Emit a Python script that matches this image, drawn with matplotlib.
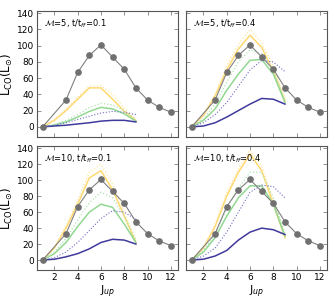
import numpy as np
import matplotlib
matplotlib.use("Agg")
import matplotlib.pyplot as plt

# observed / reference ladder (same in every panel)
j_obs = [1, 3, 4, 5, 6, 7, 8, 9, 10, 11, 12]
l_obs = [0, 33, 67, 88, 101, 86, 71, 48, 33, 24, 18]

j_mod = [1, 2, 3, 4, 5, 6, 7, 8, 9]

titles = [r"$\mathcal{M}$=5, t/t$_{ff}$=0.1", r"$\mathcal{M}$=5, t/t$_{ff}$=0.4",
          r"$\mathcal{M}$=10, t/t$_{ff}$=0.1", r"$\mathcal{M}$=10, t/t$_{ff}$=0.4"]

# model curves per panel: yellow solid, yellow dotted, green solid, green dotted, blue solid, blue dotted
yel = [[0, 8, 20, 34, 48, 48, 34, 19, 8],
       [0, 14, 38, 70, 96, 113, 98, 68, 32],
       [0, 15, 40, 70, 103, 112, 88, 55, 22],
       [0, 15, 42, 80, 110, 133, 112, 70, 28]]
yel_d = [[0, 9, 22, 37, 50, 51, 40, 23, 9],
         [0, 15, 40, 75, 102, 120, 104, 74, 35],
         [0, 16, 43, 75, 110, 120, 95, 60, 25],
         [0, 16, 45, 85, 115, 138, 118, 75, 30]]
grn = [[0, 2, 6, 12, 19, 24, 22, 16, 7],
       [0, 8, 22, 45, 65, 82, 83, 65, 30],
       [0, 8, 22, 42, 60, 70, 66, 45, 22],
       [0, 10, 28, 55, 78, 93, 93, 70, 30]]
grn_d = [[0, 3, 8, 15, 24, 29, 27, 20, 9],
         [0, 10, 28, 55, 80, 95, 90, 70, 33],
         [0, 10, 27, 50, 72, 85, 78, 55, 25],
         [0, 12, 32, 65, 90, 110, 110, 78, 33]]
blu = [[0, 1, 2, 3.5, 5, 7, 8, 8, 6],
       [0, 1, 5, 12, 20, 28, 35, 34, 28],
       [0, 1, 4, 8, 14, 22, 26, 25, 20],
       [0, 1, 5, 12, 25, 35, 40, 38, 32]]
blu_d = [[0, 2, 5, 9, 13, 17, 19, 18, 15],
         [0, 5, 15, 30, 50, 70, 82, 80, 68],
         [0, 3, 10, 22, 37, 52, 62, 60, 51],
         [0, 5, 15, 35, 60, 85, 94, 92, 78]]

fig = plt.figure(figsize=(3.35, 3.01), dpi=100)
pos = [[0.110, 0.545, 0.421, 0.419], [0.555, 0.545, 0.421, 0.419],
       [0.110, 0.103, 0.421, 0.412], [0.555, 0.103, 0.421, 0.412]]

for k in range(4):
    ax = fig.add_axes(pos[k])
    ax.plot(j_mod, yel[k], color="#ffd870", lw=1.1)
    ax.plot(j_mod, yel_d[k], color="#ffe6a0", lw=0.9, ls=":")
    ax.plot(j_mod, grn[k], color="#92d892", lw=1.1)
    ax.plot(j_mod, grn_d[k], color="#b0e4b0", lw=0.9, ls=":")
    ax.plot(j_mod, blu[k], color="#403a9c", lw=1.1)
    ax.plot(j_mod, blu_d[k], color="#6e6ac4", lw=0.8, ls=":")
    ax.plot(j_obs, l_obs, color="#808080", lw=0.8, marker="o", ms=3.8,
            mfc="#707070", mec="#707070")
    ax.set_xlim(0.5, 12.6)
    ax.set_ylim(-12.5, 143)
    ax.set_xticks([2, 4, 6, 8, 10, 12])
    ax.set_yticks(range(0, 141, 20))
    ax.tick_params(direction="in", top=True, right=True, labelsize=6.5,
                   length=3, width=0.5, color="#666666", pad=2)
    for s in ax.spines.values():
        s.set_color("#555555")
        s.set_linewidth(0.8)
    ax.text(0.05, 0.95, titles[k], transform=ax.transAxes, fontsize=6,
            va="top", ha="left")
    if k % 2 == 1:
        ax.set_yticklabels([])
    else:
        ax.set_ylabel(r"L$_{\rm CO}$(L$_{\odot}$)", fontsize=8.5, labelpad=1)
    if k < 2:
        ax.set_xticklabels([])
    else:
        ax.set_xlabel(r"J$_{up}$", fontsize=8, labelpad=1)

fig.savefig("out.png", dpi=100)
